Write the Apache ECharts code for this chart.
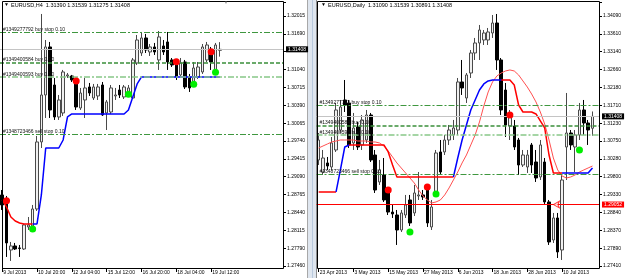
<!DOCTYPE html>
<html><head><meta charset="utf-8">
<script src="https://cdn.jsdelivr.net/npm/echarts@6/dist/echarts.min.js"></script>
<style>html,body{margin:0;padding:0;background:#fff;}#c{width:625px;height:278px;}</style>
</head><body><div id="c"></div>
<script>
// ================= DATA =================
// ---- EURUSD,H4 (left panel) ----
const h4Title = 'EURUSD,H4  1.31390 1.31539 1.31275 1.31408';
const h4TickLabels = ['1.27460','1.27790','1.28115','1.28440','1.28765','1.29090','1.29415','1.29740','1.30065','1.30390','1.30715','1.31040','','1.31690','1.32015'];
const h4TimeLabels = ['9 Jul 2013','10 Jul 20:00','12 Jul 04:00','15 Jul 12:00','16 Jul 20:00','18 Jul 04:00','19 Jul 12:00'];
const h4Open  = [1.28754,1.28663,1.27752,1.27825,1.27789,1.27770,1.28171,1.28189,1.28499,1.29720,
                 1.30576,1.31451,1.30758,1.30175,1.30248,1.30922,1.30922,1.30831,1.30339,1.30485,
                 1.30722,1.30521,1.30558,1.30758,1.30248,1.30266,1.30558,1.30667,1.30540,1.30576,
                 1.30521,1.31159,1.31341,1.31615,1.31360,1.31451,1.31214,1.31469,1.31542,1.31214,
                 1.31177,1.30941,1.31177,1.30904,1.30813,1.30904,1.30995,1.31214,1.31305,1.30995,1.31390];
const h4Close = [1.28572,1.27880,1.27825,1.27770,1.27780,1.28208,1.28208,1.28499,1.29720,1.30576,
                 1.31451,1.30303,1.30175,1.30485,1.30995,1.30941,1.30849,1.30357,1.30612,1.30704,
                 1.30612,1.30722,1.30722,1.30212,1.30449,1.30704,1.30576,1.30576,1.30722,1.30704,
                 1.31214,1.31578,1.31615,1.31396,1.31451,1.31360,1.31633,1.31360,1.31177,1.31123,
                 1.30904,1.31159,1.30722,1.30704,1.31068,1.31086,1.31451,1.31487,1.31177,1.31487,1.31408];
const h4High  = [1.28845,1.28736,1.27898,1.27880,1.27843,1.28226,1.28353,1.28572,1.29829,1.32052,
                 1.31578,1.31542,1.30886,1.30576,1.31032,1.30977,1.30941,1.30849,1.30704,1.30886,
                 1.30795,1.30777,1.30777,1.30813,1.30485,1.30758,1.30704,1.30758,1.30758,1.30758,
                 1.31250,1.31669,1.31724,1.31688,1.31505,1.31524,1.31742,1.31578,1.31724,1.31250,
                 1.31214,1.31250,1.31214,1.30959,1.31177,1.31177,1.31505,1.31542,1.31451,1.31524,1.31539];
const h4Low   = [1.28481,1.27625,1.27552,1.27752,1.27625,1.27752,1.28117,1.28171,1.28463,1.29610,
                 1.30157,1.30157,1.30121,1.30121,1.30194,1.30886,1.30813,1.30303,1.30303,1.30157,
                 1.30558,1.30485,1.30485,1.30194,1.29938,1.30230,1.30485,1.30521,1.30503,1.30558,
                 1.30503,1.31123,1.31287,1.31341,1.31287,1.31305,1.31032,1.31305,1.31032,1.31086,
                 1.30849,1.30904,1.30685,1.30631,1.30758,1.30868,1.30959,1.31177,1.31032,1.30977,1.31275];
const h4SellStop = [1.28663,1.28536,1.28353,1.28280,1.28244,1.28226,1.28226,1.28226,null,null,
                 null,null,null,null,null,null,null,null,null,null,
                 null,null,null,null,null,null,null,null,null,null,
                 null,null,null,null,null,null,null,null,null,null,
                 null,null,null,null,null,null,null,null,null,null,null];
const h4BuyStop = [null,null,null,null,null,null,null,1.28226,1.28226,1.28754,
                 1.29610,1.29610,1.29610,1.29610,1.29756,1.30175,1.30230,1.30230,1.30230,1.30230,
                 1.30230,1.30230,1.30230,1.30230,1.30230,1.30230,1.30230,1.30230,1.30230,1.30303,
                 1.30540,1.30777,1.30904,1.30904,1.30904,1.30904,1.30904,1.30904,1.30904,1.30904,
                 1.30904,1.30904,1.30904,1.30904,1.30904,1.30904,1.30904,1.30904,1.30904,1.30904,1.30904];
const h4SellDots = [[1,1.28650],[17,1.30831],[40,1.31183],[48,1.31365]];
const h4BuyDots  = [[7,1.28135],[29,1.30589],[44,1.30771],[49,1.30990]];

// ---- EURUSD,Daily (right panel) ----
const d1Title = 'EURUSD,Daily  1.31090 1.31539 1.30891 1.31408';
const d1TickLabels = ['1.27410','1.27890','1.28370','1.28840','1.29330','1.29800','1.30280','1.30750','1.31230','1.31710','1.32180','1.32660','1.33140','1.33610','1.34090'];
const d1TimeLabels = ['23 Apr 2013','3 May 2013','15 May 2013','27 May 2013','6 Jun 2013','18 Jun 2013','28 Jun 2013','10 Jul 2013'];
const d1Open  = [1.30243,1.29922,1.30163,1.30056,1.30510,1.31044,1.31846,1.31766,1.30697,1.31125,
                 1.30644,1.30777,1.31445,1.30376,1.29655,1.29842,1.29441,1.28852,1.28773,1.28372,
                 1.28773,1.29174,1.28827,1.29281,1.29308,1.29441,1.28453,1.29361,1.30457,1.30457,
                 1.30777,1.30911,1.31044,1.32327,1.31899,1.32567,1.33102,1.33369,1.33449,1.33449,
                 1.33636,1.33903,1.32915,1.32113,1.31151,1.31151,1.30777,1.30109,1.30056,1.30644,
                 1.30189,1.29789,1.30189,1.29121,1.28105,1.28693,1.27838,1.30590,1.30964,1.30590,
                 1.30911,1.31579,1.31231,1.31090];
const d1Close = [1.30777,1.30296,1.30082,1.30697,1.31579,1.31659,1.31712,1.30644,1.31098,1.30590,
                 1.31312,1.31445,1.30243,1.29441,1.29976,1.29174,1.28852,1.28800,1.28372,1.28827,
                 1.29041,1.28560,1.29361,1.29308,1.29254,1.28560,1.28987,1.30430,1.29922,1.30777,
                 1.31044,1.31098,1.32327,1.32167,1.32514,1.33102,1.33369,1.33716,1.33636,1.33663,
                 1.33903,1.32915,1.31579,1.31178,1.31445,1.30590,1.30109,1.30376,1.30376,1.30109,
                 1.29762,1.30644,1.29121,1.28052,1.28693,1.27785,1.29708,1.30964,1.30644,1.30911,
                 1.31579,1.31231,1.31044,1.31408];
const d1High  = [1.30964,1.30510,1.30323,1.30857,1.31766,1.31846,1.32380,1.31846,1.31499,1.31258,
                 1.31445,1.31579,1.31499,1.30510,1.30243,1.30296,1.29521,1.29041,1.28907,1.28907,
                 1.29308,1.29308,1.29575,1.29922,1.29441,1.29575,1.29174,1.30510,1.30777,1.30911,
                 1.31178,1.31312,1.32434,1.32915,1.32567,1.33182,1.33503,1.33850,1.33716,1.33770,
                 1.34117,1.34144,1.32968,1.32300,1.31579,1.31312,1.30831,1.30510,1.30510,1.30697,
                 1.30510,1.30777,1.30296,1.29174,1.28827,1.28827,1.29842,1.32033,1.31044,1.31044,
                 1.31766,1.31846,1.31312,1.31539];
const d1Low   = [1.30109,1.29842,1.29976,1.29976,1.30457,1.30964,1.31525,1.30563,1.30510,1.30510,
                 1.30510,1.30697,1.30189,1.29361,1.29575,1.29121,1.28773,1.28693,1.27972,1.28319,
                 1.28693,1.28479,1.28746,1.29174,1.29174,1.28453,1.28372,1.29254,1.29842,1.30376,
                 1.30644,1.30777,1.30911,1.31980,1.31766,1.32434,1.32915,1.32915,1.33316,1.33316,
                 1.33503,1.32648,1.31445,1.30857,1.30777,1.30510,1.29842,1.30056,1.29896,1.29896,
                 1.29655,1.29708,1.29041,1.27972,1.28025,1.27624,1.27571,1.29708,1.30510,1.29922,
                 1.30777,1.30911,1.30644,1.30891];
const d1Average = [1.30563,1.30617,1.30670,1.30724,1.30750,1.30777,1.30777,1.30777,1.30777,1.30750,
                 1.30750,1.30750,1.30724,1.30724,1.30697,1.30617,1.30483,1.30323,1.30163,1.30029,
                 1.29896,1.29762,1.29628,1.29441,1.29281,1.29174,1.29094,1.29121,1.29174,1.29308,
                 1.29495,1.29708,1.29922,1.30163,1.30376,1.30644,1.30911,1.31258,1.31686,1.32060,
                 1.32327,1.32487,1.32567,1.32621,1.32648,1.32621,1.32514,1.32354,1.32193,1.32006,
                 1.31793,1.31525,1.31205,1.30777,1.30296,1.29976,1.29815,1.29762,1.29789,1.29842,
                 1.29922,1.29976,1.30029,1.30082];
const d1SellStop = [1.29388,1.29388,1.29388,1.29388,1.29388,null,null,1.30644,1.30644,1.30644,
                 1.30644,1.30644,1.30644,1.30644,1.30644,1.30644,1.30457,1.30109,1.29789,1.29789,
                 1.29789,1.29789,1.29789,1.29789,1.29789,1.29789,1.29789,1.29789,1.29789,1.29789,
                 1.29789,1.29789,null,null,null,null,null,null,null,null,
                 null,null,1.32380,1.32380,1.32380,1.32247,1.31712,1.31525,1.31525,1.31525,
                 1.31472,1.31285,1.31098,1.30376,1.29896,1.29896,1.29896,null,null,null,
                 null,null,null,null];
const d1BuyStop = [null,null,null,null,1.29388,1.29976,1.30590,1.30644,null,null,
                 null,null,null,null,null,null,null,null,null,null,
                 null,null,null,null,null,null,null,null,null,null,
                 null,1.29789,1.30296,1.30777,1.31178,1.31579,1.31846,1.32113,1.32274,1.32354,
                 1.32380,1.32380,1.32380,null,null,null,null,null,null,null,
                 null,null,null,null,null,null,1.29896,1.29896,1.29896,1.29896,
                 1.29896,1.29896,1.29896,1.30029];
const d1SellDots = [[16,1.29441],[25,1.29521],[44,1.31445]];
const d1BuyDots  = [[21,1.28319],[27,1.29334],[60,1.30510]];
const d1ArrowMark = [[54,1.29052]];

// ---- trade levels shared by both panels ----
const orderLevels = [1.31718, 1.31170, 1.30908, 1.29868];
const orderLabels = ['#1349277792 buy stop 0.10', '#1349400584 buy 0.10', '#1349400593 buy 0.10', '#1348723466 sell stop 0.10'];
const bidPrice = 1.31408;
const alertPrice = 1.29052;

// ================= CHART =================
const FONT = '"Liberation Sans", Arial, sans-serif';
const SLOTS = 65;
const slotNames = Array.from({length: SLOTS}, (_, i) => String(i));

const orderStyles = [
  {color: '#3f973f', type: [6, 2, 2, 2], width: 1},
  {color: '#3a8f3a', type: [4, 2], width: 1.5},
  {color: '#88c888', type: [6, 2, 2, 2], width: 1.5},
  {color: '#3f973f', type: [6, 2, 2, 2], width: 1}
];

function levelLines(withAlert) {
  const data = orderLevels.map((v, i) => ({
    yAxis: v,
    lineStyle: orderStyles[i],
    label: {show: true, position: 'insideStartTop', formatter: orderLabels[i], color: '#111',
            fontSize: 5, fontFamily: FONT, distance: [3, 0]}
  }));
  data.push({yAxis: bidPrice, lineStyle: {color: '#c4c4c4', type: 'solid', width: 1},
    label: {show: true, position: 'end', formatter: bidPrice.toFixed(5), color: '#fff', backgroundColor: '#000',
            padding: [1, 2, 0, 2], fontSize: 5, fontFamily: FONT, distance: 3}});
  if (withAlert) {
    data.push({yAxis: alertPrice, lineStyle: {color: '#ff0000', type: 'solid', width: 1},
      label: {show: true, position: 'end', formatter: alertPrice.toFixed(5), color: '#fff', backgroundColor: '#ff0000',
              padding: [1, 2, 0, 2], fontSize: 5, fontFamily: FONT, distance: 3}});
  }
  return {symbol: 'none', silent: true, animation: false, precision: 5, data: data};
}

function xAxisFor(gridIndex, labels) {
  const show = (i) => i % 8 === 0 && (i / 8) < labels.length;
  return {
    type: 'category', gridIndex: gridIndex, data: slotNames, boundaryGap: true, offset: 2,
    axisLine: {show: false},
    axisTick: {show: true, alignWithLabel: true, length: 4, interval: (i) => show(i), lineStyle: {color: '#000'}},
    axisLabel: {interval: (i) => show(i), formatter: (v) => { const i = Number(v); return show(i) ? labels[i / 8] : ''; },
                fontSize: 5, fontFamily: FONT, color: '#000', margin: 2, align: 'left', padding: [0, 0, 0, 1]},
    splitLine: {show: false}
  };
}

function yAxisFor(gridIndex, min, max, interval, labels) {
  return {
    type: 'value', gridIndex: gridIndex, position: 'right', min: min, max: max, interval: interval, scale: true,
    axisLine: {show: false}, splitLine: {show: false},
    axisTick: {show: true, length: 3, lineStyle: {color: '#000'}},
    axisLabel: {fontSize: 5, fontFamily: FONT, color: '#000', margin: 4,
                formatter: (v) => { const k = Math.round((v - min) / interval); return labels[k] || ''; }}
  };
}

function candles(open, close, low, high, xi) {
  return {
    type: 'candlestick', xAxisIndex: xi, yAxisIndex: xi, z: 3, barWidth: 3,
    data: open.map((o, i) => [o, close[i], low[i], high[i]]),
    itemStyle: {color: '#f0f0f0', color0: '#000000', borderColor: '#4a4a4a', borderColor0: '#000000', borderWidth: 1}
  };
}
function stopLine(data, color, width, xi, z) {
  return {type: 'line', xAxisIndex: xi, yAxisIndex: xi, data: data, showSymbol: false, symbol: 'none',
          connectNulls: false, z: z, lineStyle: {color: color, width: width}, silent: true};
}
function dots(data, color, xi) {
  return {type: 'scatter', xAxisIndex: xi, yAxisIndex: xi, data: data, symbolSize: 7, z: 6,
          itemStyle: {color: color, opacity: 1}, silent: true};
}

const h4Min = 1.27460, h4Interval = 0.04555 / 14, h4Max = 1.27460 + 264 * 0.04555 / 250;
const d1Min = 1.27410, d1Interval = 0.0668 / 14, d1Max = 1.27410 + 264 * 0.0668 / 250;

const option = {
  animation: false,
  backgroundColor: '#ffffff',
  grid: [
    {left: 0, top: 2, width: 283, height: 264, containLabel: false, outerBoundsMode: 'none'},
    {left: 316.5, top: 2, width: 282.5, height: 264, containLabel: false, outerBoundsMode: 'none'}
  ],
  xAxis: [xAxisFor(0, h4TimeLabels), xAxisFor(1, d1TimeLabels)],
  yAxis: [yAxisFor(0, h4Min, h4Max, h4Interval, h4TickLabels), yAxisFor(1, d1Min, d1Max, d1Interval, d1TickLabels)],
  series: [
    {type: 'line', xAxisIndex: 0, yAxisIndex: 0, data: [], z: 1, silent: true, markLine: levelLines(false)},
    candles(h4Open, h4Close, h4Low, h4High, 0),
    stopLine(h4SellStop, '#ff0000', 1.5, 0, 4),
    stopLine(h4BuyStop, '#0000ff', 1.5, 0, 4),
    dots(h4SellDots, '#ff0000', 0),
    dots(h4BuyDots, '#00ee00', 0),
    {type: 'line', xAxisIndex: 1, yAxisIndex: 1, data: [], z: 1, silent: true, markLine: levelLines(true)},
    candles(d1Open, d1Close, d1Low, d1High, 1),
    stopLine(d1Average, '#ff5050', 1, 1, 4),
    stopLine(d1SellStop, '#ff0000', 1.5, 1, 4),
    stopLine(d1BuyStop, '#0000ff', 1.5, 1, 4),
    dots(d1SellDots, '#ff0000', 1),
    dots(d1BuyDots, '#00ee00', 1),
    {type: 'scatter', xAxisIndex: 1, yAxisIndex: 1, data: d1ArrowMark, symbol: 'arrow', symbolRotate: 90,
     symbolSize: [5, 6], z: 6, silent: true, itemStyle: {color: '#ffffff', borderColor: '#ff0000', borderWidth: 1}}
  ],
  graphic: [
    {type: 'rect', z: 0, silent: true, shape: {x: 307, y: 0, width: 10, height: 278}, style: {fill: '#dfe6ef'}},
    {type: 'line', z: 0, silent: true, shape: {x1: 307.5, y1: 0, x2: 307.5, y2: 278}, style: {stroke: '#a8a8a8', lineWidth: 1}},
    {type: 'line', z: 0, silent: true, shape: {x1: 312.5, y1: 0, x2: 312.5, y2: 278}, style: {stroke: '#b9c9dd', lineWidth: 1}},
    {type: 'line', z: 0, silent: true, shape: {x1: 316.5, y1: 0, x2: 316.5, y2: 278}, style: {stroke: '#8c8c8c', lineWidth: 1}},
    {type: 'rect', z: 10, silent: true, shape: {x: 2.5, y: 1.5, width: 281, height: 267}, style: {fill: null, stroke: '#000', lineWidth: 1}},
    {type: 'rect', z: 10, silent: true, shape: {x: 317.5, y: 1.5, width: 282, height: 267}, style: {fill: null, stroke: '#000', lineWidth: 1}},
    {type: 'text', z: 10, silent: true, x: 4, y: 2.5, style: {text: '\u25BC', fontSize: 5, fontFamily: FONT, fill: '#000'}},
    {type: 'text', z: 10, silent: true, x: 11, y: 2, style: {text: h4Title, fontSize: 5.5, fontFamily: FONT, fill: '#000'}},
    {type: 'text', z: 10, silent: true, x: 321, y: 2.5, style: {text: '\u25BC', fontSize: 5, fontFamily: FONT, fill: '#000'}},
    {type: 'text', z: 10, silent: true, x: 328, y: 2, style: {text: d1Title, fontSize: 5.5, fontFamily: FONT, fill: '#000'}},
    {type: 'text', z: 10, silent: true, x: 224, y: 1, style: {text: '\u25BC', fontSize: 4, fontFamily: FONT, fill: '#999'}}
  ]
};

const chart = echarts.init(document.getElementById('c'), null, {renderer: 'canvas', width: 625, height: 278});
chart.setOption(option);
</script>
</body></html>
